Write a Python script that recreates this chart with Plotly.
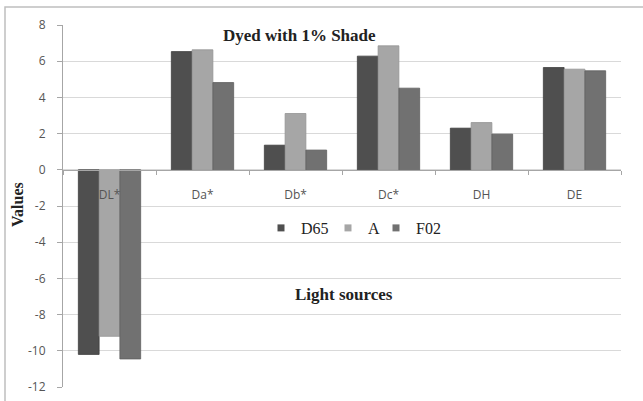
import plotly.graph_objects as go

categories = ["DL*", "Da*", "Db*", "Dc*", "DH", "DE"]
d65 = [-10.2, 6.53, 1.36, 6.28, 2.30, 5.65]
a_vals = [-9.2, 6.63, 3.11, 6.85, 2.61, 5.56]
f02 = [-10.45, 4.82, 1.09, 4.51, 1.97, 5.47]
series_names = ["D65", "A", "F02"]
y_ticks = [8, 6, 4, 2, 0, -2, -4, -6, -8, -10, -12]
y_tick_text = [str(v) for v in y_ticks]

colors = ["#4f4f4f", "#a6a6a6", "#717171"]
line_colors = ["#404040", "#949494", "#606060"]
legend_ids = ["legend", "legend2", "legend3"]
legend_px = [261, 328, 376]  # left edge of each legend entry, in pixels

fig = go.Figure()
for name, vals, c, lc in zip(series_names, [d65, a_vals, f02], colors, line_colors):
    fig.add_trace(go.Bar(x=categories, y=vals, name=name, legendgroup=name, showlegend=False,
                         marker=dict(color=c, line=dict(color=lc, width=0.8))))
# legend entries with small square symbols
for name, c, lg in zip(series_names, colors, legend_ids):
    fig.add_trace(go.Scatter(x=[None], y=[None], mode="markers", name=name, legendgroup=name,
                             legend=lg, showlegend=True,
                             marker=dict(symbol="square", size=7, color=c)))

L, R, T, B = 63, 22, 25, 14
W, H = 643, 401
pw = W - L - R
ph = H - T - B

legend_style = dict(orientation="h", y=(H - B - 228) / ph, xanchor="left", yanchor="middle",
                    font=dict(family="Liberation Serif", size=16, color="#222"),
                    itemwidth=30, bgcolor="rgba(0,0,0,0)")

fig.update_layout(
    width=W, height=H,
    margin=dict(l=L, r=R, t=T, b=B, autoexpand=False),
    paper_bgcolor="white", plot_bgcolor="white",
    barmode="group", bargap=0.33, bargroupgap=0,
    showlegend=True,
    xaxis=dict(anchor="free", position=12 / 20, showline=True, linecolor="#a6a6a6",
               ticks="outside", tickson="boundaries", ticklen=4, tickcolor="#a6a6a6",
               ticklabelstandoff=14, automargin=False,
               tickfont=dict(family="Open Sans", size=12, color="#555"),
               showgrid=False, zeroline=False),
    yaxis=dict(range=[-12, 8], tickvals=y_ticks, ticktext=y_tick_text, showline=True,
               linecolor="#a6a6a6", automargin=False, ticklabelstandoff=9,
               ticks="outside", ticklen=5, tickcolor="#a6a6a6",
               gridcolor="#d9d9d9", gridwidth=1, zeroline=False,
               tickfont=dict(family="Open Sans", size=12, color="#555")),
    font=dict(family="Liberation Serif"),
)
for lg, px in zip(legend_ids, legend_px):
    fig.update_layout({lg: dict(legend_style, x=(px - L) / pw)})

fig.add_annotation(text="<b>Dyed with 1% Shade</b>", xref="paper", yref="paper",
                   x=(299 - L) / pw, y=(H - B - 36) / ph, showarrow=False,
                   xanchor="center", yanchor="middle",
                   font=dict(family="Liberation Serif", size=17, color="#222"))
fig.add_annotation(text="<b>Light sources</b>", xref="paper", yref="paper",
                   x=(344 - L) / pw, y=(H - B - 294) / ph, showarrow=False,
                   xanchor="center", yanchor="middle",
                   font=dict(family="Liberation Serif", size=17, color="#222"))
fig.add_annotation(text="<b>Values</b>", xref="paper", yref="paper",
                   x=(18 - L) / pw, y=(H - B - 205) / ph, showarrow=False, textangle=-90,
                   xanchor="center", yanchor="middle",
                   font=dict(family="Liberation Serif", size=16, color="#222"))

fig.add_shape(type="rect", xref="paper", yref="paper",
              x0=(5 - L) / pw, x1=(650 - L) / pw,
              y0=(H - B - 410) / ph, y1=(H - B - 7) / ph,
              line=dict(color="#bfbfbf", width=1.5), fillcolor="rgba(0,0,0,0)", layer="below")

fig.write_html("out.html", config={"displayModeBar": False},
               post_script="document.body.style.margin='0';")
